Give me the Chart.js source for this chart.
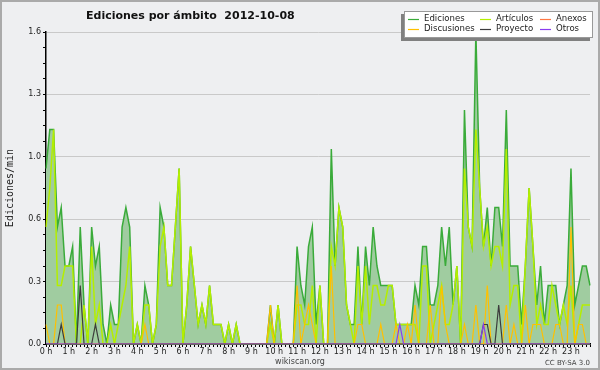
<!DOCTYPE html>
<html>
<head>
<meta charset="utf-8">
<script src="https://cdn.jsdelivr.net/npm/chart.js@4.4.0/dist/chart.umd.min.js"></script>
<style>
    html, body { margin: 0; padding: 0; background: #eeeff1; }
    #grafico { display: block; }
</style>
</head>
<body>
<canvas id="grafico" width="600" height="370"></canvas>
<script>

const titulo = 'Ediciones por ámbito  2012-10-08'
const tituloEje = 'Ediciones/min'
const horas = ['0 h', '1 h', '2 h', '3 h', '4 h', '5 h', '6 h', '7 h', '8 h', '9 h', '10 h', '11 h',
    '12 h', '13 h', '14 h', '15 h', '16 h', '17 h', '18 h', '19 h', '20 h', '21 h', '22 h', '23 h']

// tramos de 10 minutos (6 por hora)
const tramos = horas.flatMap(h => ['00', '10', '20', '30', '40', '50'].map(m => h.replace(' h', '') + ':' + m))

// marcas del eje y (las etiquetas van redondeadas como en el original)
const marcasY = [0, 0.32, 0.64, 0.96, 1.28, 1.6]
const etiquetasY = ['0.0', '0.3', '0.6', '1.0', '1.3', '1.6']

// una fila por hora
const ediciones = [
    0.9, 1.1, 1.1, 0.6, 0.7, 0.4,
    0.4, 0.5, 0.0, 0.6, 0.2, 0.0,
    0.6, 0.4, 0.5, 0.1, 0.0, 0.2,
    0.1, 0.1, 0.6, 0.7, 0.6, 0.0,
    0.1, 0.0, 0.3, 0.2, 0.0, 0.1,
    0.7, 0.6, 0.3, 0.3, 0.6, 0.9,
    0.0, 0.2, 0.5, 0.3, 0.1, 0.2,
    0.1, 0.3, 0.1, 0.1, 0.1, 0.0,
    0.1, 0.0, 0.1, 0.0, 0.0, 0.0,
    0.0, 0.0, 0.0, 0.0, 0.0, 0.2,
    0.0, 0.2, 0.0, 0.0, 0.0, 0.0,
    0.5, 0.3, 0.2, 0.5, 0.6, 0.1,
    0.3, 0.0, 0.0, 1.0, 0.4, 0.7,
    0.6, 0.2, 0.1, 0.1, 0.5, 0.1,
    0.5, 0.3, 0.6, 0.4, 0.3, 0.3,
    0.3, 0.3, 0.1, 0.1, 0.1, 0.1,
    0.1, 0.3, 0.2, 0.5, 0.5, 0.2,
    0.2, 0.3, 0.6, 0.4, 0.6, 0.2,
    0.4, 0.0, 1.2, 0.6, 0.5, 1.6,
    0.8, 0.5, 0.7, 0.4, 0.7, 0.7,
    0.5, 1.2, 0.4, 0.4, 0.4, 0.1,
    0.4, 0.8, 0.5, 0.2, 0.4, 0.1,
    0.3, 0.3, 0.3, 0.1, 0.2, 0.3,
    0.9, 0.2, 0.3, 0.4, 0.4, 0.3
]

const articulos = [
    0.6, 0.8, 1.1, 0.3, 0.3, 0.4,
    0.4, 0.4, 0.0, 0.0, 0.2, 0.0,
    0.5, 0.1, 0.2, 0.0, 0.0, 0.1,
    0.0, 0.1, 0.2, 0.3, 0.5, 0.0,
    0.1, 0.0, 0.2, 0.2, 0.0, 0.1,
    0.5, 0.6, 0.3, 0.3, 0.6, 0.9,
    0.0, 0.2, 0.5, 0.3, 0.1, 0.2,
    0.1, 0.3, 0.1, 0.1, 0.1, 0.0,
    0.1, 0.0, 0.1, 0.0, 0.0, 0.0,
    0.0, 0.0, 0.0, 0.0, 0.0, 0.1,
    0.0, 0.2, 0.0, 0.0, 0.0, 0.0,
    0.2, 0.2, 0.1, 0.1, 0.3, 0.0,
    0.3, 0.0, 0.0, 0.5, 0.4, 0.7,
    0.6, 0.2, 0.1, 0.0, 0.4, 0.1,
    0.4, 0.1, 0.3, 0.3, 0.2, 0.2,
    0.3, 0.3, 0.1, 0.1, 0.1, 0.1,
    0.1, 0.1, 0.0, 0.4, 0.4, 0.0,
    0.1, 0.2, 0.3, 0.1, 0.1, 0.2,
    0.4, 0.0, 0.9, 0.6, 0.5, 1.1,
    0.8, 0.5, 0.6, 0.4, 0.5, 0.5,
    0.4, 1.0, 0.2, 0.3, 0.3, 0.0,
    0.4, 0.8, 0.5, 0.1, 0.2, 0.1,
    0.1, 0.3, 0.2, 0.1, 0.2, 0.1,
    0.3, 0.0, 0.1, 0.2, 0.2, 0.2
]

const anexos = [
    0, 0, 0, 0, 0, 0,   0, 0, 0, 0, 0, 0,   0, 0, 0, 0, 0, 0,   0, 0, 0, 0, 0, 0,
    0, 0, 0, 0, 0, 0,   0, 0, 0, 0, 0, 0,   0, 0, 0, 0, 0, 0,   0, 0, 0, 0, 0, 0,
    0, 0, 0, 0, 0, 0,   0, 0, 0, 0, 0, 0,   0, 0, 0, 0, 0, 0,   0, 0, 0, 0, 0, 0,
    0, 0, 0, 0, 0, 0,   0, 0, 0, 0, 0, 0,   0, 0, 0, 0, 0, 0,   0, 0, 0, 0, 0, 0,
    0, 0, 0, 0, 0, 0,   0, 0, 0, 0, 0, 0,   0, 0, 0, 0, 0, 0,   0, 0, 0, 0, 0, 0,
    0, 0, 0, 0, 0, 0,   0, 0, 0, 0, 0, 0,   0, 0, 0, 0, 0, 0,   0, 0, 0, 0, 0, 0
]

const discusiones = [
    0.1, 0.0, 0.0, 0.2, 0.2, 0.0,
    0.0, 0.0, 0.0, 0.0, 0.0, 0.0,
    0.0, 0.0, 0.0, 0.0, 0.0, 0.0,
    0.0, 0.0, 0.0, 0.0, 0.0, 0.0,
    0.0, 0.0, 0.1, 0.0, 0.0, 0.0,
    0.0, 0.0, 0.0, 0.0, 0.0, 0.0,
    0.0, 0.0, 0.0, 0.0, 0.0, 0.0,
    0.0, 0.0, 0.0, 0.0, 0.0, 0.0,
    0.0, 0.0, 0.0, 0.0, 0.0, 0.0,
    0.0, 0.0, 0.0, 0.0, 0.0, 0.2,
    0.0, 0.0, 0.0, 0.0, 0.0, 0.0,
    0.3, 0.0, 0.1, 0.2, 0.1, 0.0,
    0.0, 0.0, 0.0, 0.4, 0.0, 0.0,
    0.0, 0.0, 0.0, 0.0, 0.1, 0.1,
    0.0, 0.0, 0.0, 0.0, 0.1, 0.0,
    0.0, 0.0, 0.1, 0.0, 0.0, 0.1,
    0.0, 0.2, 0.0, 0.0, 0.0, 0.2,
    0.0, 0.0, 0.3, 0.1, 0.0, 0.0,
    0.0, 0.0, 0.1, 0.0, 0.0, 0.2,
    0.0, 0.0, 0.3, 0.0, 0.0, 0.0,
    0.0, 0.2, 0.0, 0.1, 0.0, 0.0,
    0.2, 0.0, 0.1, 0.1, 0.1, 0.0,
    0.0, 0.0, 0.1, 0.1, 0.0, 0.0,
    0.6, 0.0, 0.1, 0.1, 0.0, 0.0
]

const proyecto = [
    0, 0, 0, 0, 0.1, 0,   0, 0, 0, 0.3, 0, 0,   0, 0.1, 0, 0, 0, 0,   0, 0, 0, 0, 0, 0,
    0, 0, 0, 0, 0, 0,     0, 0, 0, 0, 0, 0,     0, 0, 0, 0, 0, 0,     0, 0, 0, 0, 0, 0,
    0, 0, 0, 0, 0, 0,     0, 0, 0, 0, 0, 0,     0, 0, 0, 0, 0, 0,     0, 0, 0, 0, 0, 0,
    0, 0, 0, 0, 0, 0,     0, 0, 0, 0, 0, 0,     0, 0, 0, 0, 0, 0,     0, 0, 0, 0, 0, 0,
    0, 0, 0, 0, 0, 0,     0, 0, 0, 0, 0, 0,     0, 0, 0, 0, 0, 0,     0, 0.1, 0.1, 0, 0, 0.2,
    0, 0, 0, 0, 0, 0,     0, 0, 0, 0, 0, 0,     0, 0, 0, 0, 0, 0,     0, 0, 0, 0, 0, 0
]

const otros = [
    0, 0, 0, 0, 0, 0,   0, 0, 0, 0, 0, 0,   0, 0, 0, 0, 0, 0,   0, 0, 0, 0, 0, 0,
    0, 0, 0, 0, 0, 0,   0, 0, 0, 0, 0, 0,   0, 0, 0, 0, 0, 0,   0, 0, 0, 0, 0, 0,
    0, 0, 0, 0, 0, 0,   0, 0, 0, 0, 0, 0,   0, 0, 0, 0, 0, 0,   0, 0, 0, 0, 0, 0,
    0, 0, 0, 0, 0, 0,   0, 0, 0, 0, 0, 0,   0, 0, 0, 0, 0, 0,   0, 0, 0, 0.1, 0, 0,
    0, 0, 0, 0, 0, 0,   0, 0, 0, 0, 0, 0,   0, 0, 0, 0, 0, 0,   0, 0.1, 0, 0, 0, 0,
    0, 0, 0, 0, 0, 0,   0, 0, 0, 0, 0, 0,   0, 0, 0, 0, 0, 0,   0, 0, 0, 0, 0, 0
]

const colores = {
    'Ediciones': '#3aab3a',
    'Artículos': '#b4ee00',
    'Anexos': '#ff7744',
    'Discusiones': '#ffc000',
    'Proyecto': '#3c3c3c',
    'Otros': '#8a3cf0'
}

// orden de la leyenda: fila 1 y fila 2
const leyenda = [['Ediciones', 'Artículos', 'Anexos'], ['Discusiones', 'Proyecto', 'Otros']]

Chart.defaults.font.family = '"DejaVu Sans", sans-serif'
Chart.defaults.color = '#333'

/*
* Fondo, marco, titulos y leyenda con sombra (estilo wikiscan)
*/
const marco = {
    id: 'marco',
    beforeDraw(chart) {
        const c = chart.ctx
        c.save()
        c.fillStyle = '#eeeff1'
        c.fillRect(0, 0, chart.width, chart.height)
        c.restore()
    },
    afterDraw(chart) {
        const c = chart.ctx
        c.save()

        c.strokeStyle = '#aaaaaa'
        c.lineWidth = 2
        c.strokeRect(1, 1, chart.width - 2, chart.height - 2)

        c.fillStyle = '#111'
        c.font = 'bold 11px "DejaVu Sans"'
        c.textBaseline = 'alphabetic'
        c.fillText(titulo, 86, 19)

        c.save()
        c.translate(13, 188)
        c.rotate(-Math.PI / 2)
        c.font = '10px "DejaVu Sans Mono"'
        c.textAlign = 'center'
        c.fillStyle = '#222'
        c.fillText(tituloEje, 0, 0)
        c.restore()

        // leyenda
        c.fillStyle = '#808080'
        c.fillRect(401, 14, 189, 27)
        c.fillStyle = '#ffffff'
        c.fillRect(404, 11, 189, 27)
        c.strokeStyle = '#999'
        c.lineWidth = 1
        c.strokeRect(404.5, 11.5, 188, 26)

        const colX = [408, 480, 540]
        const filaY = [19, 29]
        c.font = '9.5px "DejaVu Sans Condensed"'
        c.textBaseline = 'middle'
        leyenda.forEach((fila, f) => {
            fila.forEach((nombre, k) => {
                c.strokeStyle = colores[nombre]
                c.lineWidth = 1.2
                c.beginPath()
                c.moveTo(colX[k], filaY[f] + 0.5)
                c.lineTo(colX[k] + 11, filaY[f] + 0.5)
                c.stroke()
                c.fillStyle = '#222'
                c.fillText(nombre, colX[k] + 16, filaY[f])
            })
        })

        c.fillStyle = '#444'
        c.font = '8px "DejaVu Sans"'
        c.textAlign = 'center'
        c.textBaseline = 'alphabetic'
        c.fillText('wikiscan.org', 300, 364)
        c.font = '7px "DejaVu Sans"'
        c.textAlign = 'right'
        c.fillText('CC BY-SA 3.0', 590, 365)

        c.restore()
    }
}

const serie = (nombre, datos, ancho, orden, extra) => Object.assign({
    label: nombre,
    data: datos,
    borderColor: colores[nombre],
    borderWidth: ancho,
    pointRadius: 0,
    tension: 0,
    fill: false,
    order: orden
}, extra || {})

const ctx = document.getElementById('grafico').getContext('2d')

const grafico = new Chart(ctx, {
    type: 'line',
    data: {
        labels: tramos,
        datasets: [
            serie('Ediciones', ediciones, 1.5, 10, { fill: 'origin', backgroundColor: '#a0cca0' }),
            serie('Artículos', articulos, 1.5, 6),
            serie('Anexos', anexos, 1.2, 5),
            serie('Discusiones', discusiones, 1.2, 4),
            serie('Proyecto', proyecto, 1.2, 3),
            serie('Otros', otros, 1.2, 2)
        ]
    },
    options: {
        responsive: false,
        animation: false,
        layout: { padding: { top: 32, right: 10, left: 0, bottom: 0 } },
        plugins: {
            legend: { display: false },
            title: { display: false },
            tooltip: { enabled: false }
        },
        scales: {
            x: {
                afterFit: (s) => { s.height = 26 },
                border: { color: '#000', width: 1.5 },
                grid: { drawOnChartArea: false, tickLength: 3, tickColor: '#000' },
                ticks: {
                    autoSkip: false,
                    maxRotation: 0,
                    padding: 0,
                    font: { size: 8 },
                    color: '#222',
                    callback: (v, i) => i % 6 === 0 ? horas[i / 6] : ''
                }
            },
            y: {
                min: 0,
                max: 1.6,
                afterFit: (s) => { s.width = 46 },
                afterBuildTicks: (s) => {
                    // 4 subdivisiones entre marcas principales
                    const t = []
                    marcasY.forEach((v, k) => {
                        t.push({ value: v })
                        if (k < marcasY.length - 1) {
                            const paso = (marcasY[k + 1] - v) / 4
                            for (let j = 1; j < 4; j++) t.push({ value: v + paso * j })
                        }
                    })
                    s.ticks = t
                },
                border: { color: '#000', width: 1.5 },
                grid: {
                    color: (c) => c.index % 4 === 0 ? '#c9c9c9' : 'rgba(0,0,0,0)',
                    tickColor: '#000',
                    tickLength: 3
                },
                ticks: {
                    autoSkip: false,
                    padding: 2,
                    font: { size: 8 },
                    color: '#222',
                    callback: (v, i) => i % 4 === 0 ? etiquetasY[i / 4] : ''
                }
            }
        }
    },
    plugins: [marco]
})

</script>
</body>
</html>
